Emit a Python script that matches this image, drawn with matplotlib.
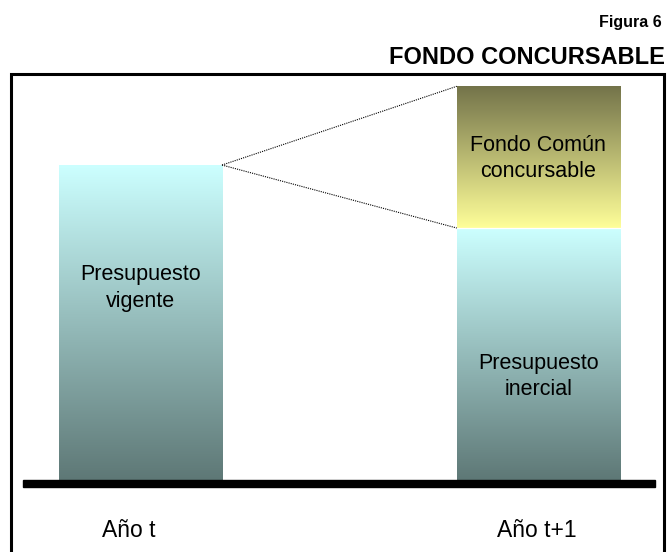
import numpy as np
import matplotlib
matplotlib.use('Agg')
import matplotlib.pyplot as plt
from matplotlib.colors import LinearSegmentedColormap
from matplotlib.patches import Rectangle
from matplotlib.transforms import ScaledTranslation

# ---- data ----
categories = ['Año t', 'Año t+1']
presupuesto_vigente = 100
presupuesto_inercial = 80
fondo_comun = 45
segment_labels = ['Presupuesto\nvigente', 'Presupuesto\ninercial', 'Fondo Común\nconcursable']
figure_label = 'Figura 6'
title = 'FONDO CONCURSABLE'

plt.rcParams['font.family'] = ['Liberation Sans', 'DejaVu Sans']

W, H = 667, 552
fig = plt.figure(figsize=(W / 100, H / 100), dpi=100)
ax = fig.add_axes([23 / W, (H - 480) / H, 632 / W, 400 / H])

cyan_cmap = LinearSegmentedColormap.from_list('cy', ['#5E7876', '#CCFFFF'])
olive_cmap = LinearSegmentedColormap.from_list('ol', ['#FFFF99', '#73734A'])
grad = np.linspace(0, 1, 256).reshape(-1, 1)

xpos = np.arange(len(categories))
bw = 0.41

def grad_bar(x, y0, y1, cmap):
    ax.imshow(grad, extent=[x - bw / 2, x + bw / 2, y0, y1], origin='lower',
              cmap=cmap, aspect='auto', interpolation='bicubic', zorder=2)

grad_bar(xpos[0], 0, presupuesto_vigente, cyan_cmap)
grad_bar(xpos[1], 0, presupuesto_inercial, cyan_cmap)
grad_bar(xpos[1], presupuesto_inercial, presupuesto_inercial + fondo_comun, olive_cmap)
ax.plot([xpos[1] - bw / 2, xpos[1] + bw / 2], [presupuesto_inercial] * 2,
        color='white', lw=0.9, zorder=3)

for yt in [presupuesto_inercial + fondo_comun, presupuesto_inercial]:
    ax.plot([xpos[0] + bw / 2, xpos[1] - bw / 2], [presupuesto_vigente, yt],
            color='black', lw=0.8, ls=(0, (1, 1)), zorder=3)

tkw = dict(ha='center', va='center', fontsize=15.5, linespacing=1.35, zorder=4)
ax.text(xpos[0], presupuesto_vigente * 0.61, segment_labels[0], **tkw)
ax.text(xpos[1], presupuesto_inercial * 0.41, segment_labels[1], **tkw)
ax.text(xpos[1], presupuesto_inercial + fondo_comun * 0.49, segment_labels[2], **tkw)

ax.set_xlim(-0.295, 1.293)
ax.set_ylim(0, 127)
ax.set_xticks(xpos)
ax.set_xticklabels(categories, fontsize=16.5)
ax.tick_params(axis='x', length=0, pad=28)
lbls = ax.get_xticklabels()
lbls[0].set_transform(lbls[0].get_transform() + ScaledTranslation(-12 / 100, 0, fig.dpi_scale_trans))
lbls[1].set_transform(lbls[1].get_transform() + ScaledTranslation(-1.5 / 100, 0, fig.dpi_scale_trans))
ax.set_yticks([])
for s in ax.spines.values():
    s.set_visible(False)
ax.patch.set_visible(False)

fig.add_artist(Rectangle((23 / W, (H - 487) / H), 632 / W, 7 / H,
                         transform=fig.transFigure, color='black', zorder=5))
fig.add_artist(Rectangle((10.5 / W, -0.1), (663.5 - 10.5) / W, (H - 74) / H + 0.1,
                         transform=fig.transFigure, fill=False, lw=2.2, ec='black'))

fig.text(662 / W, 1 - 22 / H, figure_label, ha='right', va='center', fontsize=11.5,
         fontweight='bold')
fig.text(665 / W, 1 - 57 / H, title, ha='right', va='center', fontsize=17,
         fontweight='bold')

fig.savefig('out.png', dpi=100)
